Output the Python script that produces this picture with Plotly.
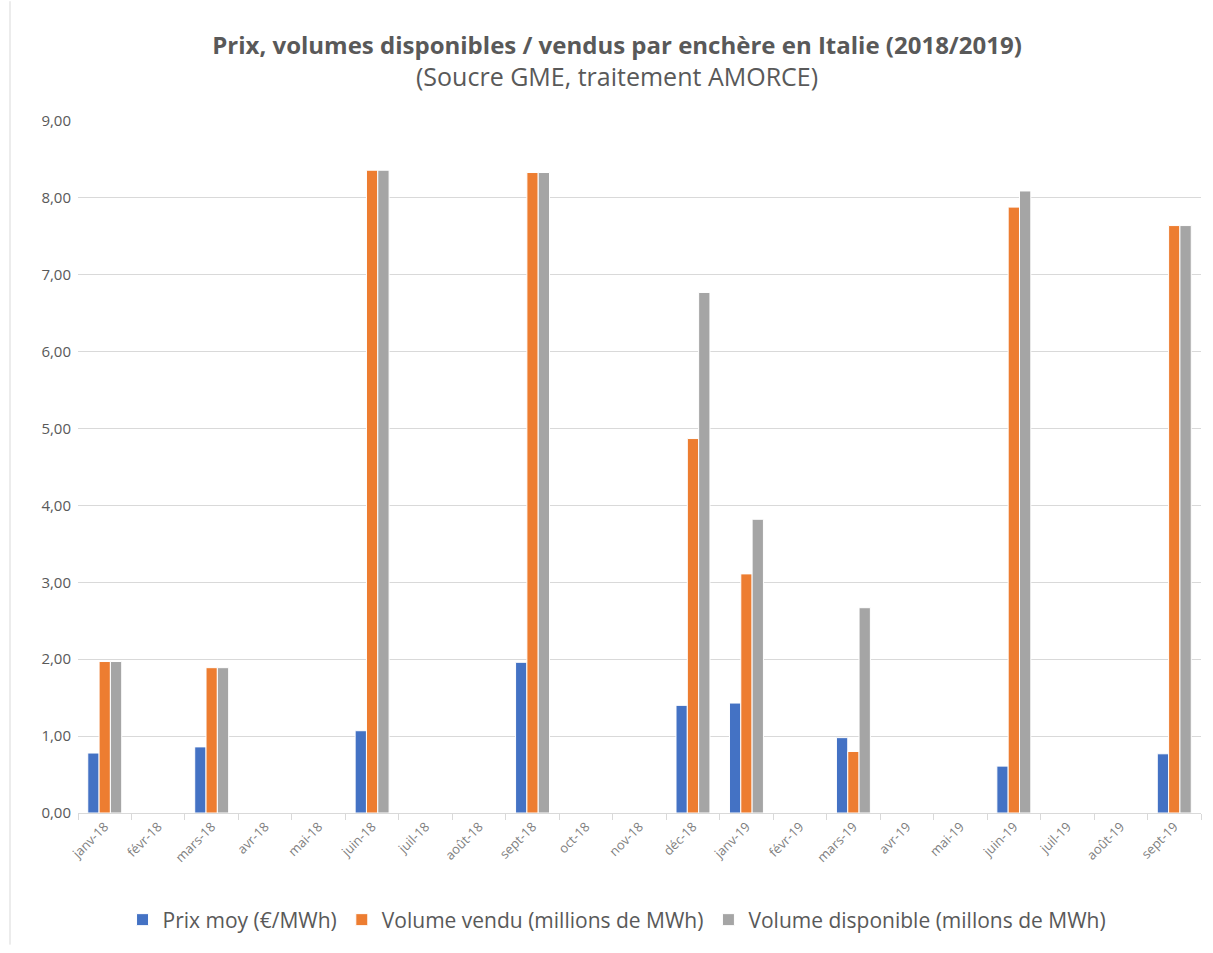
import plotly.graph_objects as go

mois = ["janv-18", "févr-18", "mars-18", "avr-18", "mai-18", "juin-18", "juil-18",
        "août-18", "sept-18", "oct-18", "nov-18", "déc-18", "janv-19", "févr-19",
        "mars-19", "avr-19", "mai-19", "juin-19", "juil-19", "août-19", "sept-19"]

prix_moy = [0.78, None, 0.86, None, None, 1.07, None, None, 1.96, None, None, 1.40,
            1.43, None, 0.98, None, None, 0.61, None, None, 0.77]
volume_vendu = [1.97, None, 1.89, None, None, 8.36, None, None, 8.33, None, None, 4.87,
                3.11, None, 0.80, None, None, 7.88, None, None, 7.64]
volume_dispo = [1.97, None, 1.89, None, None, 8.36, None, None, 8.33, None, None, 6.77,
                3.82, None, 2.67, None, None, 8.09, None, None, 7.64]

series = [
    ("Prix moy (€/MWh)", prix_moy, "#4472C4"),
    ("Volume vendu (millions de MWh)", volume_vendu, "#ED7D31"),
    ("Volume disponible (millons de MWh)", volume_dispo, "#A5A5A5"),
]

FONT = "Open Sans"
GREY = "#595959"

fig = go.Figure()
for nom, valeurs, couleur in series:
    fig.add_trace(go.Bar(
        x=mois, y=valeurs, name=nom,
        marker=dict(color=couleur, line=dict(color="white", width=1)),
    ))

fig.update_layout(
    width=1213, height=953,
    margin=dict(l=78, r=12, t=121, b=133),
    paper_bgcolor="white", plot_bgcolor="white",
    separators=", ",
    barmode="group", bargap=0.365, bargroupgap=0,
    font=dict(family=FONT, color=GREY),
    title=dict(
        text="<b>Prix, volumes disponibles / vendus par enchère en Italie (2018/2019)</b>"
             "<br><span style='font-size:25px'>(Soucre GME, traitement AMORCE)</span>",
        x=0.48, xref="paper", xanchor="center", y=0.943, yanchor="top",
        font=dict(family=FONT, size=24, color=GREY),
    ),
    legend=dict(
        orientation="h", x=0.48, xanchor="center", xref="paper",
        y=-0.125, yanchor="top",
        font=dict(family=FONT, size=21, color=GREY),
        itemwidth=30, tracegroupgap=0,
    ),
    xaxis=dict(
        type="category", tickangle=-45,
        tickfont=dict(family=FONT, size=13, color="#7F7F7F"),
        showgrid=False, showline=True, linecolor="#D9D9D9", linewidth=1,
        ticks="outside", tickson="boundaries", ticklen=6, tickcolor="#D9D9D9",
    ),
    yaxis=dict(
        range=[0, 9], dtick=1, tickformat=".2f",
        tickfont=dict(family=FONT, size=15, color=GREY),
        showgrid=True, gridcolor="#D9D9D9", gridwidth=1,
        zeroline=False, showline=False, ticks="", ticklabelstandoff=6,
    ),
    shapes=[dict(type="line", xref="paper", yref="paper",
                 x0=-68 / 1123, x1=-68 / 1123, y0=-133 / 699, y1=121 / 699 + 1,
                 line=dict(color="#D9D9D9", width=1))],
)

fig.write_html("out.html")
